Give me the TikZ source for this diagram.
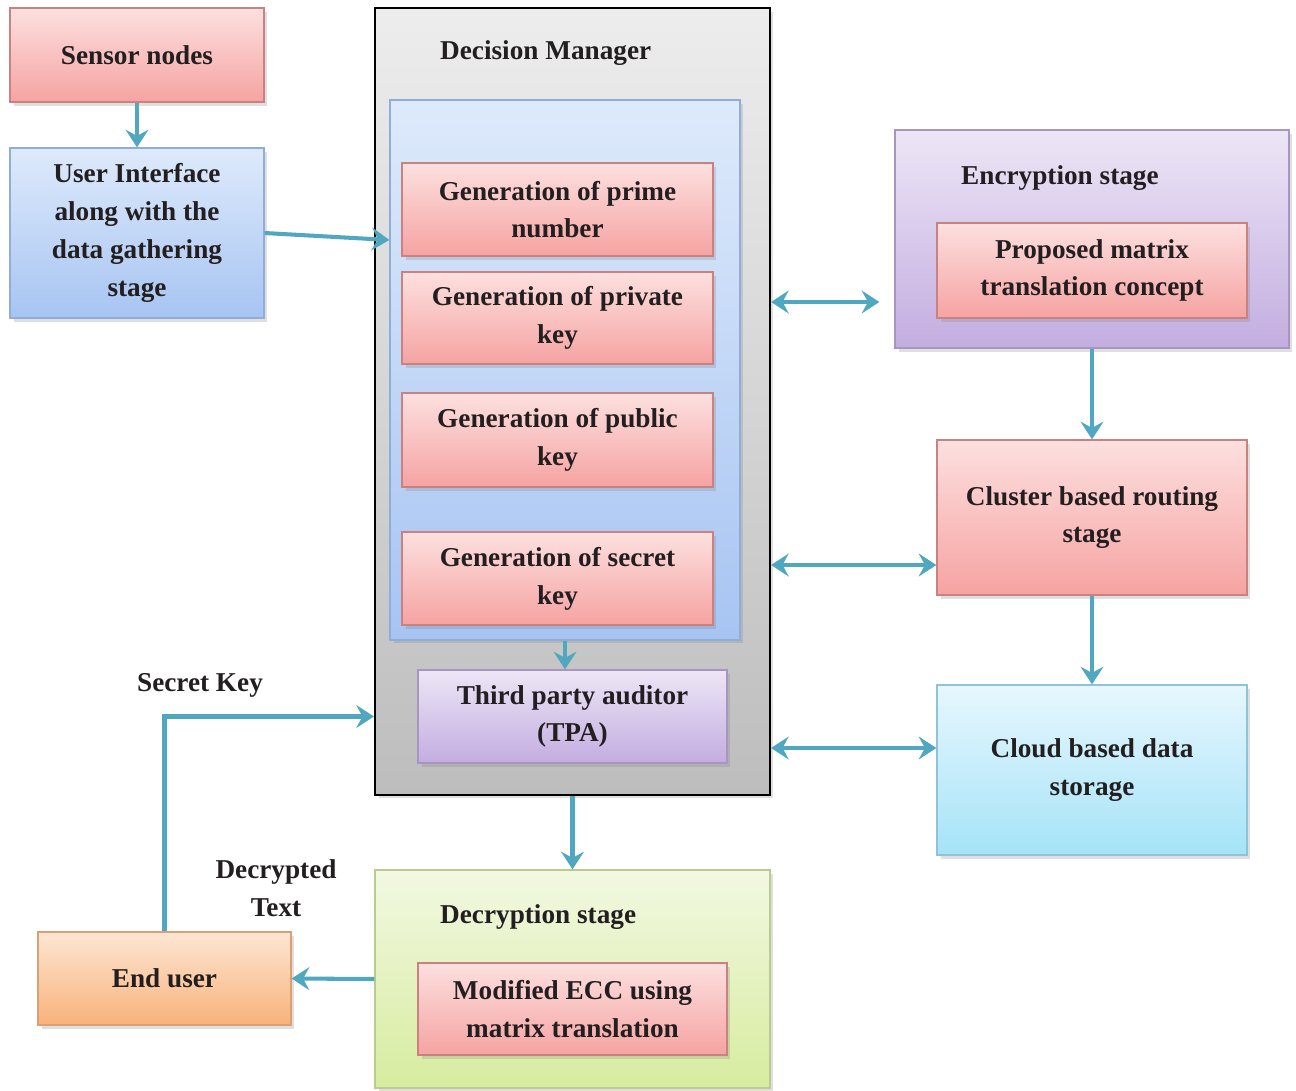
\documentclass[tikz,border=0pt]{standalone}
\usepackage{fontspec}
\setmainfont{Liberation Serif}
\usetikzlibrary{shadows,arrows.meta,calc}
\definecolor{pinkT}{HTML}{FCE0DF}
\definecolor{pinkB}{HTML}{F5A3A2}
\definecolor{pinkD}{HTML}{C9827F}
\definecolor{blueT}{HTML}{DEEAFB}
\definecolor{blueB}{HTML}{A7C4F2}
\definecolor{blueD}{HTML}{8EADD8}
\definecolor{grayT}{HTML}{EDEDED}
\definecolor{grayB}{HTML}{BDBDBD}
\definecolor{purT}{HTML}{EDE6F6}
\definecolor{purB}{HTML}{C3ADE0}
\definecolor{purD}{HTML}{A796C2}
\definecolor{cyanT}{HTML}{E7F7FD}
\definecolor{cyanB}{HTML}{A5E3F8}
\definecolor{cyanD}{HTML}{8FC4D8}
\definecolor{greenT}{HTML}{F2F8E2}
\definecolor{greenB}{HTML}{D7EC9F}
\definecolor{greenD}{HTML}{B9CC8C}
\definecolor{orangeT}{HTML}{FDE6D4}
\definecolor{orangeB}{HTML}{F8B27A}
\definecolor{orangeD}{HTML}{D9A076}
\definecolor{arr}{HTML}{4FA8C0}
\definecolor{txt}{HTML}{231F20}
\tikzset{
  base/.style={rectangle, align=center, inner sep=2pt, text=txt,
    font=\fontsize{15.5}{21.5}\selectfont\bfseries,
    drop shadow={opacity=0.25, shadow xshift=2pt, shadow yshift=-2pt}},
  pinkbox/.style={base, draw=pinkD, line width=0.8pt, top color=pinkT, bottom color=pinkB},
  bluebox/.style={base, draw=blueD, line width=0.8pt, top color=blueT, bottom color=blueB},
  purbox/.style={base, draw=purD, line width=0.8pt, top color=purT, bottom color=purB},
  cyanbox/.style={base, draw=cyanD, line width=0.8pt, top color=cyanT, bottom color=cyanB},
  greenbox/.style={base, draw=greenD, line width=0.8pt, top color=greenT, bottom color=greenB},
  orangebox/.style={base, draw=orangeD, line width=0.8pt, top color=orangeT, bottom color=orangeB},
  graybox/.style={base, draw=black, line width=1.3pt, top color=grayT, bottom color=grayB},
  title/.style={anchor=west, text=txt, font=\fontsize{15.5}{21.5}\selectfont\bfseries},
  lbl/.style={align=center, text=txt, font=\fontsize{15.5}{21.5}\selectfont\bfseries},
  tip/.tip={Stealth[length=10pt,width=13pt,inset=3.5pt]},
  flow/.style={draw=arr, line width=2.3pt, -tip},
  dflow/.style={draw=arr, line width=2.3pt, tip-tip}
}
\begin{document}
\begin{tikzpicture}[x=0.02cm,y=-0.02cm]
\useasboundingbox[fill=white] (0,0) rectangle (1296,1090);

% left column
\node[pinkbox, minimum width=5.08cm, minimum height=1.88cm] (sensor) at (137,55) {Sensor nodes};
\node[bluebox, minimum width=5.08cm, minimum height=3.4cm] (ui) at (137,233) {User Interface\\along with the\\data gathering\\stage};

% decision manager
\node[graybox, minimum width=7.9cm, minimum height=15.74cm] (dm) at (572.5,401.5) {};
\node[title] (dmt) at (434,53) {Decision Manager};
\node[bluebox, minimum width=7.0cm, minimum height=10.8cm] (inner) at (565,370) {};
\node[pinkbox, minimum width=6.22cm, minimum height=1.86cm] (prime) at (557.5,209.5) {Generation of prime\\number};
\node[pinkbox, minimum width=6.22cm, minimum height=1.84cm] (private) at (557.5,318) {Generation of private\\key};
\node[pinkbox, minimum width=6.22cm, minimum height=1.88cm] (public) at (557.5,440) {Generation of public\\key};
\node[pinkbox, minimum width=6.22cm, minimum height=1.86cm] (secret) at (557.5,578.5) {Generation of secret\\key};
\node[purbox, minimum width=6.18cm, minimum height=1.86cm] (tpa) at (572.5,716.5) {Third party auditor\\(TPA)};

% right column
\node[purbox, minimum width=7.88cm, minimum height=4.36cm] (enc) at (1092,239) {};
\node[title] (enct) at (955,178) {Encryption stage};
\node[pinkbox, minimum width=6.2cm, minimum height=1.9cm] (prop) at (1092,270.5) {Proposed matrix\\translation concept};
\node[pinkbox, minimum width=6.2cm, minimum height=3.1cm] (cluster) at (1092,517.5) {Cluster based routing\\stage};
\node[cyanbox, minimum width=6.2cm, minimum height=3.4cm] (cloud) at (1092,770) {Cloud based data\\storage};

% bottom
\node[greenbox, minimum width=7.9cm, minimum height=4.36cm] (dec) at (572.5,979) {};
\node[title] (dect) at (434,917) {Decryption stage};
\node[pinkbox, minimum width=6.18cm, minimum height=1.84cm] (ecc) at (572.5,1009) {Modified ECC using\\matrix translation};
\node[orangebox, minimum width=5.06cm, minimum height=1.86cm] (eu) at (164.5,978.5) {End user};

% labels
\node[lbl] (sk) at (200,685) {Secret Key};
\node[lbl] (dt) at (276,888) {Decrypted\\Text};

% helper coordinates
\coordinate (y302) at (0,302);
\coordinate (y565) at (0,565);
\coordinate (y748) at (0,748);
\coordinate (y240) at (0,240);

% connectors
\draw[flow] (sensor) -- (ui);
\draw[flow] (ui.east) -- (inner.west |- y240);
\draw[dflow, shorten >=0.3cm] (dm.east |- y302) -- (enc.west |- y302);
\draw[dflow] (dm.east |- y565) -- (cluster.west |- y565);
\draw[dflow] (dm.east |- y748) -- (cloud.west |- y748);
\draw[flow] (enc.south) -- (cluster.north);
\draw[flow] (cluster.south) -- (cloud.north);
\draw[flow] (inner.south) -- (inner.south |- tpa.north);
\draw[flow] (dm.south) -- (dec.north);
\draw[flow] (dec.west) -- (eu.east);
\draw[flow] (eu.north) |- (dm.west |- tpa.center);
\end{tikzpicture}
\end{document}
